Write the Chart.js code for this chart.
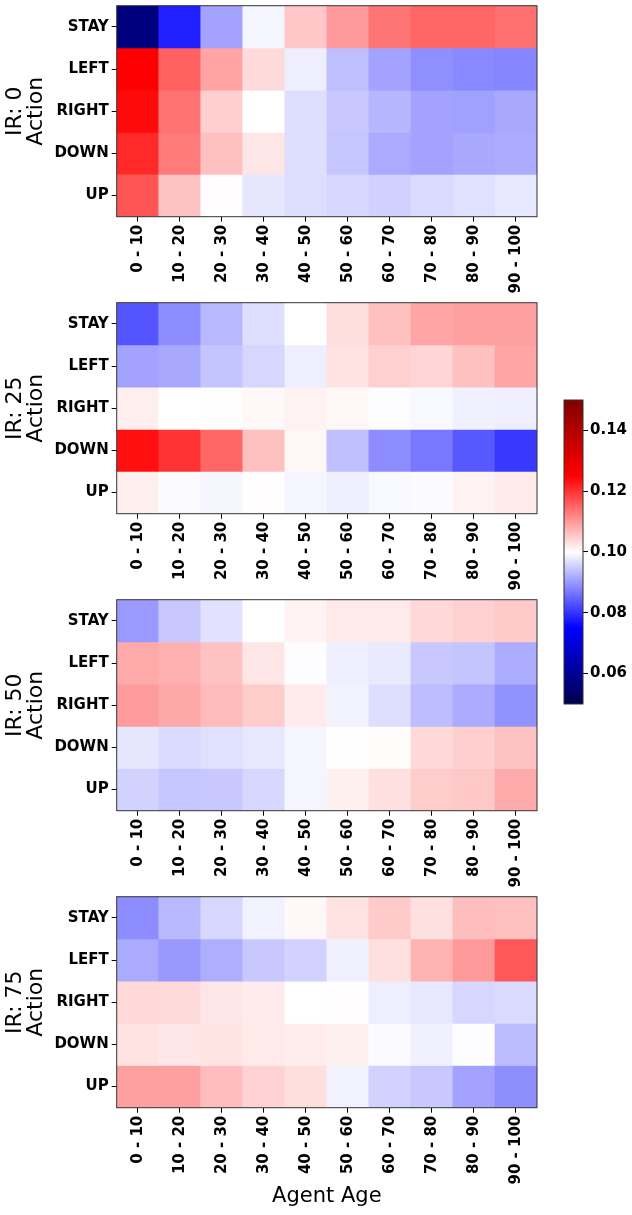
<!DOCTYPE html>
<html><head><meta charset="utf-8">
<script src="https://cdn.jsdelivr.net/npm/chart.js@4.4.0/dist/chart.umd.min.js"></script>
<style>
html,body{margin:0;padding:0;background:#fff;}
#wrap{position:relative;width:632px;height:1215px;overflow:hidden;background:#fff;}
canvas{position:absolute;}
</style></head><body><div id="wrap">
<canvas id="p0" width="632" height="297" style="left:0;top:0"></canvas>
<canvas id="p1" width="632" height="297" style="left:0;top:297px"></canvas>
<canvas id="p2" width="632" height="297" style="left:0;top:594px"></canvas>
<canvas id="p3" width="632" height="324" style="left:0;top:891px"></canvas>
<canvas id="cb" width="92" height="330" style="left:540px;top:390px"></canvas>
</div>
<script>
const ages = ['0 - 10','10 - 20','20 - 30','30 - 40','40 - 50','50 - 60','60 - 70','70 - 80','80 - 90','90 - 100'];
const actions = ['STAY','LEFT','RIGHT','DOWN','UP'];
const irLabels = ['IR: 0','IR: 25','IR: 50','IR: 75'];
const xTitle = 'Agent Age';
const yTitle = 'Action';

// rows: STAY, LEFT, RIGHT, DOWN, UP ; columns: age bins
const ir0 = [
  [0.057,0.078,0.091,0.099,0.1055,0.110,0.1135,0.115,0.115,0.114],
  [0.125,0.1155,0.109,0.1036,0.0983,0.0937,0.091,0.089,0.0883,0.088],
  [0.124,0.1138,0.1047,0.1000,0.0968,0.0946,0.0928,0.091,0.0907,0.0915],
  [0.121,0.113,0.1062,0.1025,0.0968,0.0944,0.0917,0.091,0.0915,0.0918],
  [0.1167,0.106,0.1002,0.0975,0.0967,0.096,0.0955,0.0964,0.097,0.0976]
];
const ir25 = [
  [0.0833,0.0888,0.093,0.0968,0.1000,0.1032,0.1062,0.1088,0.1093,0.1093],
  [0.091,0.0915,0.0942,0.096,0.0983,0.1028,0.1046,0.1041,0.1062,0.1088],
  [0.1017,0.1000,0.0999,0.1007,0.1013,0.1009,0.0998,0.0993,0.0985,0.0983],
  [0.1235,0.120,0.115,0.1062,0.1009,0.0938,0.0888,0.0868,0.0836,0.0805],
  [0.1017,0.0996,0.0991,0.1002,0.099,0.0983,0.0993,0.0995,0.1013,0.102]
];
const ir50 = [
  [0.090,0.0946,0.0972,0.1000,0.1012,0.1022,0.1022,0.1038,0.1046,0.1052],
  [0.1083,0.1077,0.106,0.1025,0.0998,0.0983,0.0979,0.0946,0.0942,0.092],
  [0.1098,0.1085,0.1068,0.105,0.102,0.0987,0.0968,0.0935,0.0918,0.0893],
  [0.0975,0.0964,0.097,0.0976,0.099,0.0999,0.1003,0.1038,0.1047,0.106],
  [0.0956,0.0944,0.0946,0.096,0.099,0.1015,0.103,0.105,0.1054,0.1083]
];
const ir75 = [
  [0.0888,0.093,0.096,0.0987,0.1007,0.1028,0.1052,0.103,0.1064,0.1062],
  [0.0917,0.0899,0.0921,0.0946,0.0956,0.0985,0.103,0.1075,0.1099,0.1164],
  [0.1038,0.1036,0.1025,0.102,0.1000,0.1002,0.0983,0.0976,0.096,0.0964],
  [0.1028,0.1024,0.1026,0.1022,0.1018,0.1015,0.0995,0.0985,0.0998,0.0933],
  [0.1093,0.1093,0.1064,0.1043,0.1032,0.0987,0.0956,0.0946,0.091,0.0889]
];
const colorbarTicks = [0.06,0.08,0.10,0.12,0.14];
const vMin = 0.05, vMax = 0.15;

Chart.defaults.font.family = "'DejaVu Sans', sans-serif";
Chart.defaults.font.size = 16;
Chart.defaults.color = '#000';
const tickFont = { size: 15, weight: 'bold' };

const seismicStops = [[0,[0,0,0.3]],[0.25,[0,0,1]],[0.5,[1,1,1]],[0.75,[1,0,0]],[1,[0.5,0,0]]];
function seismic(v){
  let t = (v - vMin) / (vMax - vMin);
  t = Math.max(0, Math.min(1, t));
  for (let i = 0; i < seismicStops.length - 1; i++) {
    const [t0,c0] = seismicStops[i], [t1,c1] = seismicStops[i+1];
    if (t <= t1) {
      const f = (t - t0) / (t1 - t0);
      const c = c0.map((a,k)=>Math.round(255*(a + (c1[k]-a)*f)));
      return `rgb(${c[0]},${c[1]},${c[2]})`;
    }
  }
  return 'rgb(128,0,0)';
}

const framePlugin = {
  id: 'frame',
  afterDatasetsDraw(chart){
    const {ctx, chartArea:a} = chart;
    ctx.save();
    ctx.strokeStyle = '#333';
    ctx.lineWidth = 1;
    ctx.strokeRect(a.left, a.top, a.right - a.left, a.bottom - a.top);
    ctx.restore();
  }
};
function zeroPad(s){ s.paddingTop = 0; s.paddingBottom = 0; s.paddingLeft = 0; s.paddingRight = 0; }

function makePanel(id, irLabel, values, last){
  const canvas = document.getElementById(id);
  const H = canvas.height;
  const plotTop = 5.7, plotH = 211, yAxisW = 116.7;
  new Chart(canvas, {
    type: 'bar',
    data: {
      labels: ages,
      datasets: actions.map((a, r) => ({
        label: a,
        data: ages.map(() => [r, r + 1]),
        backgroundColor: values[r].map(seismic),
        borderWidth: 0,
        barPercentage: 1,
        categoryPercentage: 1,
        grouped: false
      }))
    },
    options: {
      responsive: false, animation: false, events: [],
      layout: { padding: { top: plotTop, left: 0, right: 95, bottom: 0 } },
      plugins: { legend: { display: false }, tooltip: { enabled: false } },
      scales: {
        x: {
          type: 'category', offset: true,
          grid: { offset: false, drawOnChartArea: false, drawTicks: true, tickLength: 5, color: '#000' },
          border: { display: false },
          ticks: { minRotation: 90, maxRotation: 90, autoSkip: false, padding: 3, font: tickFont },
          title: { display: last, text: xTitle, font: { size: 21 }, padding: { top: 0, bottom: 6 } },
          afterFit(s){ s.height = H - plotTop - plotH; zeroPad(s); }
        },
        y: {
          type: 'linear', min: 0, max: 5, reverse: true,
          afterBuildTicks(s){ s.ticks = [0.5,1.5,2.5,3.5,4.5].map(v => ({ value: v })); },
          ticks: { callback: v => actions[Math.floor(v)], font: tickFont, padding: 3, autoSkip: false },
          grid: { drawOnChartArea: false, tickLength: 5, color: '#000' },
          border: { display: false },
          title: { display: true, text: [irLabel, yTitle], font: { size: 22, lineHeight: 0.95 }, padding: { top: 4.5, bottom: 0 } },
          afterFit(s){ s.width = yAxisW; zeroPad(s); }
        }
      }
    },
    plugins: [framePlugin]
  });
}

makePanel('p0', irLabels[0], ir0, false);
makePanel('p1', irLabels[1], ir25, false);
makePanel('p2', irLabels[2], ir50, false);
makePanel('p3', irLabels[3], ir75, true);

new Chart(document.getElementById('cb'), {
  type: 'bar',
  data: {
    labels: [''],
    datasets: [{
      data: [[vMin, vMax]],
      backgroundColor: (ctx) => {
        const a = ctx.chart.chartArea;
        if (!a) return '#fff';
        const g = ctx.chart.ctx.createLinearGradient(0, a.bottom, 0, a.top);
        seismicStops.forEach(([t, c]) => g.addColorStop(t, `rgb(${Math.round(c[0]*255)},${Math.round(c[1]*255)},${Math.round(c[2]*255)})`));
        return g;
      },
      borderWidth: 0, barPercentage: 1, categoryPercentage: 1
    }]
  },
  options: {
    responsive: false, animation: false, events: [],
    layout: { padding: { top: 10, bottom: 16, left: 24, right: 0 } },
    plugins: { legend: { display: false }, tooltip: { enabled: false } },
    scales: {
      x: { display: false },
      y: {
        position: 'right', min: vMin, max: vMax,
        afterBuildTicks(s){ s.ticks = colorbarTicks.map(v => ({ value: v })); },
        ticks: { callback: v => v.toFixed(2), font: tickFont, padding: 2 },
        grid: { drawOnChartArea: false, tickLength: 5, color: '#000' },
        border: { display: false },
        afterFit(s){ s.width = 49; zeroPad(s); }
      }
    }
  },
  plugins: [framePlugin]
});
</script>
</body></html>
